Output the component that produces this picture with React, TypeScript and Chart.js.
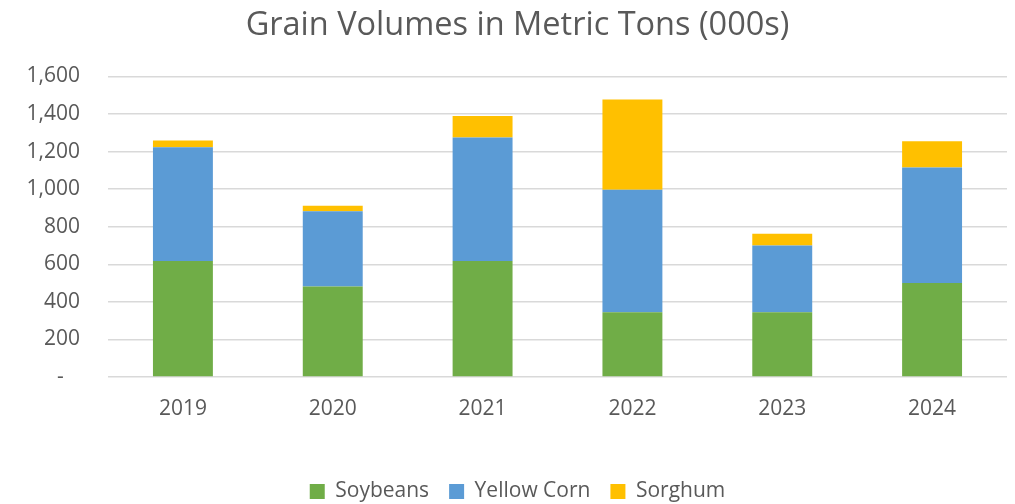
import React, { useEffect, useRef } from "react";
import { Chart, registerables } from "chart.js";

Chart.register(...registerables);

const years = ["2019", "2020", "2021", "2022", "2023", "2024"];
const soybeans = [617, 482, 617, 345, 345, 500];
const yellowCorn = [606, 400, 658, 652, 355, 616];
const sorghum = [36, 30, 115, 480, 63, 139];
const yTickMax = 1600;
const yTickStep = 200;

const FONT = "'Open Sans', sans-serif";
const TEXT = "#595959";

export default function App() {
  const ref = useRef<HTMLCanvasElement | null>(null);
  useEffect(() => {
    if (!ref.current) return;
    const chart = new Chart(ref.current, {
      type: "bar",
      data: {
        labels: years,
        datasets: [
          { label: "Soybeans", data: soybeans, backgroundColor: "#70AD47" },
          { label: "Yellow Corn", data: yellowCorn, backgroundColor: "#5B9BD5" },
          { label: "Sorghum", data: sorghum, backgroundColor: "#FFC000" },
        ],
      },
      options: {
        animation: false,
        responsive: false,
        devicePixelRatio: 1,
        layout: { padding: { left: 28, right: 8, top: 0, bottom: -8 } },
        datasets: { bar: { categoryPercentage: 1, barPercentage: 0.4 } },
        scales: {
          x: {
            stacked: true,
            grid: { display: false, drawTicks: false },
            border: { display: false },
            ticks: { color: TEXT, font: { family: FONT, size: 21 }, padding: 19 },
            afterFit: (s: any) => {
              s.height = 84;
            },
          },
          y: {
            stacked: true,
            min: 0,
            max: yTickMax,
            grid: { color: "#D9D9D9", lineWidth: 1.5, drawTicks: false },
            border: { display: false },
            ticks: {
              stepSize: yTickStep,
              color: TEXT,
              font: { family: FONT, size: 21 },
              padding: 28,
              callback: (v: any) => (Number(v) === 0 ? "-   " : Number(v).toLocaleString("en-US")),
            },
            afterFit: (s: any) => {
              s.width = 80;
            },
          },
        },
        plugins: {
          title: {
            display: true,
            text: "Grain Volumes in Metric Tons (000s)",
            color: TEXT,
            font: { family: FONT, size: 32.5, weight: "normal" },
            padding: { top: 6.5, bottom: 31 },
          },
          legend: {
            position: "bottom",
            labels: {
              color: TEXT,
              font: { family: FONT, size: 21 },
              boxWidth: 15,
              boxHeight: 15,
              padding: 20,
            },
          },
          tooltip: { enabled: false },
        },
      },
    });
    return () => chart.destroy();
  }, []);
  return (
    <div style={{ position: "absolute", left: 0, top: 0, width: 1015, height: 504, background: "#fff" }}>
      <canvas ref={ref} width={1015} height={504} style={{ width: 1015, height: 504 }} />
    </div>
  );
}
